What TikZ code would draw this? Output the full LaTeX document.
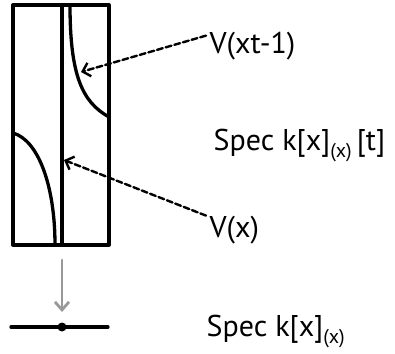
\documentclass[tikz,border=0pt]{standalone}
\usepackage{fontspec}
\setmainfont{PT Sans}
\usetikzlibrary{arrows.meta}
\newcommand{\locsub}[1]{\raisebox{-7pt}{\fontsize{20}{24}\selectfont #1}}
\begin{document}
\begin{tikzpicture}[x=1pt,y=-1pt,line width=3.3pt,line cap=round,line join=round]
\path[use as bounding box] (0,0) rectangle (395,353);
% Total space: the strip over the base.
\coordinate (strip-nw) at (13,5);
\coordinate (strip-se) at (109,245);
\draw (strip-nw) rectangle (strip-se);
\coordinate (fib-top) at (62,5);
\coordinate (fib-bot) at (62,245);
% Special fibre V(x).
\draw (fib-top) -- (fib-bot);
% Curve V(xt-1): right branch, then left branch.
\draw (70,5) .. controls (70,75) and (82,102) .. (109,117);
\draw (13,133) .. controls (38,140) and (55,185) .. (55,245);
\coordinate (hyp-pt) at (81,72);
\coordinate (fib-pt) at (64,160);
% Labels.
\node[anchor=base west,inner sep=0pt,font=\fontsize{30}{36}\selectfont] (lab-hyp) at (208,53) {V(xt-1)};
\node[anchor=base west,inner sep=0pt,font=\fontsize{30}{36}\selectfont] (lab-fib) at (208,237) {V(x)};
\node[anchor=base west,inner sep=0pt,font=\fontsize{30}{36}\selectfont] (lab-tot) at (212,150) {Spec k[x]\locsub{(x)}\,[t]};
% Dashed pointers.
\draw[line width=2.4pt,dash pattern=on 6pt off 3pt,-{Straight Barb[length=7pt,width=14pt,line width=2.4pt]}] (lab-hyp.west) ++(-2,-10) -- (hyp-pt);
\draw[line width=2.4pt,dash pattern=on 6pt off 3pt,-{Straight Barb[length=7pt,width=14pt,line width=2.4pt]}] (lab-fib.west) ++(-2,-14) -- (fib-pt);
% Projection to the base.
\coordinate (proj-top) at (62,260);
\coordinate (proj-bot) at (62,312);
\draw[black!40,line width=2.8pt,-{Straight Barb[length=8pt,width=14pt,line width=2.8pt]}] (proj-top) -- (proj-bot);
\coordinate (base-w) at (11,327);
\coordinate (base-e) at (108,327);
\draw (base-w) -- (base-e);
\node[circle,fill=black,inner sep=0pt,minimum size=9pt] (base-pt) at (62,327) {};
\node[anchor=base west,inner sep=0pt,font=\fontsize{30}{36}\selectfont] (lab-base) at (205,336) {Spec k[x]\locsub{(x)}};
\end{tikzpicture}
\end{document}
